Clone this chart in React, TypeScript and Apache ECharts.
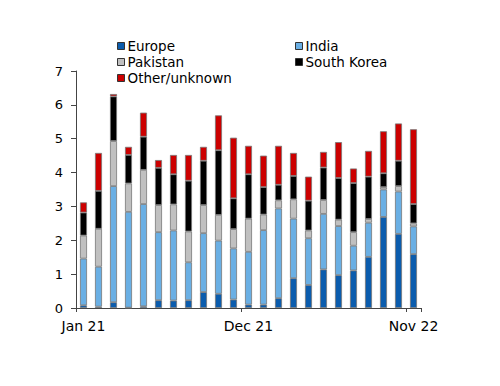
import React, { useEffect, useRef } from "react";
import * as echarts from "echarts";

const months = [
  "Jan 21", "Feb 21", "Mar 21", "Apr 21", "May 21", "Jun 21", "Jul 21", "Aug 21", "Sep 21", "Oct 21", "Nov 21", "Dec 21",
  "Jan 22", "Feb 22", "Mar 22", "Apr 22", "May 22", "Jun 22", "Jul 22", "Aug 22", "Sep 22", "Oct 22", "Nov 22",
];
const europe = [0.08, 0.04, 0.17, 0.01, 0.05, 0.23, 0.22, 0.23, 0.47, 0.42, 0.25, 0.10, 0.10, 0.29, 0.88, 0.68, 1.14, 0.97, 1.11, 1.51, 2.69, 2.19, 1.59];
const india = [1.38, 1.18, 3.43, 2.83, 3.02, 2.01, 2.07, 1.12, 1.74, 1.57, 1.51, 1.56, 2.20, 2.65, 1.76, 1.38, 1.64, 1.45, 0.73, 1.01, 0.81, 1.25, 0.82];
const pakistan = [0.68, 1.12, 1.33, 0.84, 1.01, 0.80, 0.77, 0.91, 0.83, 0.76, 0.57, 0.98, 0.46, 0.24, 0.57, 0.23, 0.41, 0.19, 0.40, 0.11, 0.07, 0.16, 0.09];
const southKorea = [0.68, 1.12, 1.32, 0.84, 0.98, 1.10, 0.89, 1.50, 1.31, 1.91, 0.91, 1.31, 0.81, 0.46, 0.69, 0.88, 0.96, 1.23, 1.45, 1.25, 0.41, 0.75, 0.57];
const other = [0.30, 1.12, 0.07, 0.24, 0.71, 0.23, 0.57, 0.76, 0.41, 1.03, 1.79, 0.84, 0.93, 1.15, 0.68, 0.71, 0.46, 1.06, 0.43, 0.76, 1.24, 1.10, 2.21];
const yTicks = [0, 1, 2, 3, 4, 5, 6, 7];

const seriesDefs = [
  { name: "Europe", data: europe, color: "#0B5CAD" },
  { name: "India", data: india, color: "#6AAFE4" },
  { name: "Pakistan", data: pakistan, color: "#C0C0C0" },
  { name: "South Korea", data: southKorea, color: "#000000" },
  { name: "Other/unknown", data: other, color: "#CC0000" },
];

const legendPos = [
  { name: "Europe", left: 117, top: 39 },
  { name: "India", left: 295, top: 39 },
  { name: "Pakistan", left: 117, top: 55 },
  { name: "South Korea", left: 295, top: 55 },
  { name: "Other/unknown", left: 117, top: 71 },
];

const FONT = "DejaVu Sans";

export default function App() {
  const ref = useRef<HTMLDivElement>(null);
  useEffect(() => {
    if (!ref.current) return;
    const chart = echarts.init(ref.current, null, { renderer: "svg" });
    chart.setOption({
      animation: false,
      backgroundColor: "#ffffff",
      grid: { left: 76, right: 79, top: 71, bottom: 78, containLabel: false },
      legend: legendPos.map((l) => ({
        data: [l.name],
        left: l.left,
        top: l.top,
        padding: 0,
        itemWidth: 7,
        itemHeight: 7,
        itemGap: 0,
        icon: "rect",
        selectedMode: false,
        itemStyle: { borderColor: "#333", borderWidth: 1 },
        textStyle: { fontFamily: FONT, fontSize: 13.5, color: "#000", padding: [0, 0, 0, -2] },
      })),
      xAxis: {
        type: "category",
        data: months,
        boundaryGap: true,
        axisLine: { show: true, lineStyle: { color: "#444", width: 1 } },
        axisTick: { show: true, interval: 10, length: 4, lineStyle: { color: "#444" } },
        axisLabel: { interval: 10, fontFamily: FONT, fontSize: 14, color: "#000", margin: 11 },
        splitLine: { show: false },
      },
      yAxis: {
        type: "value",
        min: yTicks[0],
        max: yTicks[yTicks.length - 1],
        interval: 1,
        axisLine: { show: true, lineStyle: { color: "#444", width: 1 } },
        axisTick: { show: true, length: 5, lineStyle: { color: "#444" } },
        axisLabel: { fontFamily: FONT, fontSize: 13, color: "#000", margin: 13 },
        splitLine: { show: false },
      },
      series: seriesDefs.map((s) => ({
        name: s.name,
        type: "bar",
        stack: "total",
        data: s.data,
        barWidth: 7,
        itemStyle: { color: s.color, borderColor: "#777", borderWidth: 0.8 },
      })),
    });
    return () => chart.dispose();
  }, []);
  return <div ref={ref} style={{ width: 500, height: 386, marginTop: -8, marginLeft: -8 }} />;
}
